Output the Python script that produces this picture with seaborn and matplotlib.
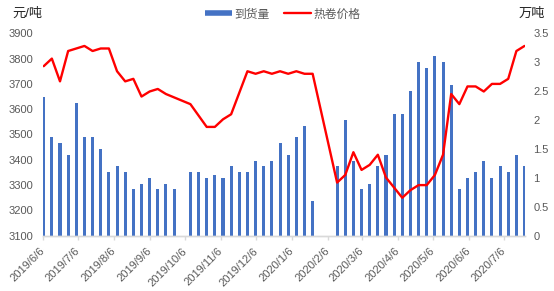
import numpy as np
import pandas as pd
import matplotlib
matplotlib.use("Agg")
import matplotlib.pyplot as plt
import matplotlib.dates as mdates
from matplotlib.lines import Line2D
import seaborn as sns

# ---------------- data ----------------
start_date = "2019-06-06"
n_weeks = 60
# arrivals (万吨), weekly, None = no data
arrivals = [2.4, 1.7, 1.6, 1.4, 2.3, 1.7, 1.7, 1.5, 1.1, 1.2,
            1.1, 0.8, 0.9, 1.0, 0.8, 0.9, 0.8, None, 1.1, 1.1,
            1.0, 1.05, 1.0, 1.2, 1.1, 1.1, 1.3, 1.2, 1.3, 1.6,
            1.4, 1.7, 1.9, 0.6, None, None, 1.2, 2.0, 1.3, 0.8,
            0.9, 1.2, 1.4, 2.1, 2.1, 2.5, 3.0, 2.9, 3.1, 3.0,
            2.6, 0.8, 1.0, 1.1, 1.3, 1.0, 1.2, 1.1, 1.4, 1.2]
# hot-rolled coil price (元/吨): week index and value
price_week = [0, 1, 2, 3, 4, 5, 6, 7, 8, 9, 10, 11, 12, 13, 14, 15,
              18, 20, 21, 22, 23, 25, 26, 27, 28, 29, 30, 31, 32, 33,
              36, 37, 38, 39, 40, 41, 42, 43, 44, 45, 46, 47, 48, 49,
              50, 51, 52, 53, 54, 55, 56, 57, 58, 59]
price = [3770, 3800, 3710, 3830, 3840, 3850, 3830, 3840, 3840, 3750,
         3710, 3720, 3650, 3670, 3680, 3660, 3620, 3530, 3530, 3560,
         3580, 3750, 3740, 3750, 3740, 3750, 3740, 3750, 3740, 3740,
         3310, 3340, 3430, 3360, 3380, 3420, 3330, 3290, 3250, 3280,
         3300, 3300, 3340, 3420, 3660, 3620, 3690, 3690, 3670, 3700,
         3700, 3720, 3830, 3850]
tick_dates = ["2019-06-06", "2019-07-06", "2019-08-06", "2019-09-06",
              "2019-10-06", "2019-11-06", "2019-12-06", "2020-01-06",
              "2020-02-06", "2020-03-06", "2020-04-06", "2020-05-06",
              "2020-06-06", "2020-07-06"]
left_ticks = [3100, 3200, 3300, 3400, 3500, 3600, 3700, 3800, 3900]
right_ticks = [0, 0.5, 1, 1.5, 2, 2.5, 3, 3.5]
right_tick_labels = ["0", "0.5", "1", "1.5", "2", "2.5", "3", "3.5"]

# ---------------- style ----------------
sns.set_style("white")
plt.rcParams["font.family"] = ["Liberation Sans", "Noto Sans CJK SC", "DejaVu Sans"]
GRAY = "#595959"
BLUE = "#4472C4"
RED = "#FF0000"

weeks = pd.date_range(start_date, periods=n_weeks, freq="7D")
x_week = mdates.date2num(weeks) + 0.6

bar_df = pd.DataFrame({"x": x_week, "v": arrivals}).dropna()
line_df = pd.DataFrame({"x": x_week[price_week], "p": price})

fig = plt.figure(figsize=(5.54, 2.91), dpi=100)
ax = fig.add_axes([43 / 554, (291 - 235.7) / 291, (525 - 43) / 554, (235.7 - 33.3) / 291])

sns.barplot(data=bar_df, x="x", y="v", ax=ax, native_scale=True,
            color=BLUE, saturation=1, width=2.6 / 7, errorbar=None,
            linewidth=0)

ax2 = ax.twinx()
sns.lineplot(data=line_df, x="x", y="p", ax=ax2, color=RED, linewidth=1.7)

ax.set_ylim(0, 3.5)
ax.yaxis.tick_right()
ax.set_yticks(right_ticks)
ax.set_yticklabels(right_tick_labels)

ax2.set_ylim(3100, 3900)
ax2.yaxis.tick_left()
ax2.set_yticks(left_ticks)
ax2.set_yticklabels([str(t) for t in left_ticks])

x0 = mdates.date2num(pd.Timestamp(start_date))
ax.set_xlim(x0, x0 + 414)
tks = pd.to_datetime(tick_dates)
ax.set_xticks(mdates.date2num(tks))
ax.set_xticklabels([f"{d.year}/{d.month}/{d.day}" for d in tks],
                   rotation=45, ha="right", va="center", rotation_mode="anchor")

for a in (ax, ax2):
    a.set_xlabel("")
    a.set_ylabel("")
    for s in ("top", "left", "right"):
        a.spines[s].set_visible(False)
    a.spines["bottom"].set_color("#D9D9D9")
    a.spines["bottom"].set_linewidth(1)
    a.grid(False)

ax.tick_params(axis="x", length=3, width=1, color="#D9D9D9", pad=7,
               labelsize=8, labelcolor=GRAY, direction="out", bottom=True)
ax.tick_params(axis="y", which="both", left=False, right=False, labelleft=False,
               labelright=True, length=0, pad=6, labelsize=8, labelcolor=GRAY)
ax2.tick_params(axis="y", which="both", left=False, right=False, labelleft=True,
                labelright=False, length=0, pad=7, labelsize=8, labelcolor=GRAY)

# legend
handles = [Line2D([0], [0], color=BLUE, lw=4, solid_capstyle="butt"),
           Line2D([0], [0], color=RED, lw=1.7)]
fig.legend(handles, ["到货量", "热卷价格"], loc="center",
           bbox_to_anchor=(282.5 / 554, 1 - 14.5 / 291), ncol=2, frameon=False,
           prop={"size": 8.5}, labelcolor=GRAY, handlelength=2.3,
           handletextpad=0.2, columnspacing=1.2, borderpad=0)

fig.text(12 / 554, 1 - 14 / 291, "元/吨", ha="left", va="center",
         fontsize=9.5, color="#262626")
fig.text(545 / 554, 1 - 14 / 291, "万吨", ha="right", va="center",
         fontsize=9.5, color="#262626")

fig.savefig("out.png", dpi=100)
